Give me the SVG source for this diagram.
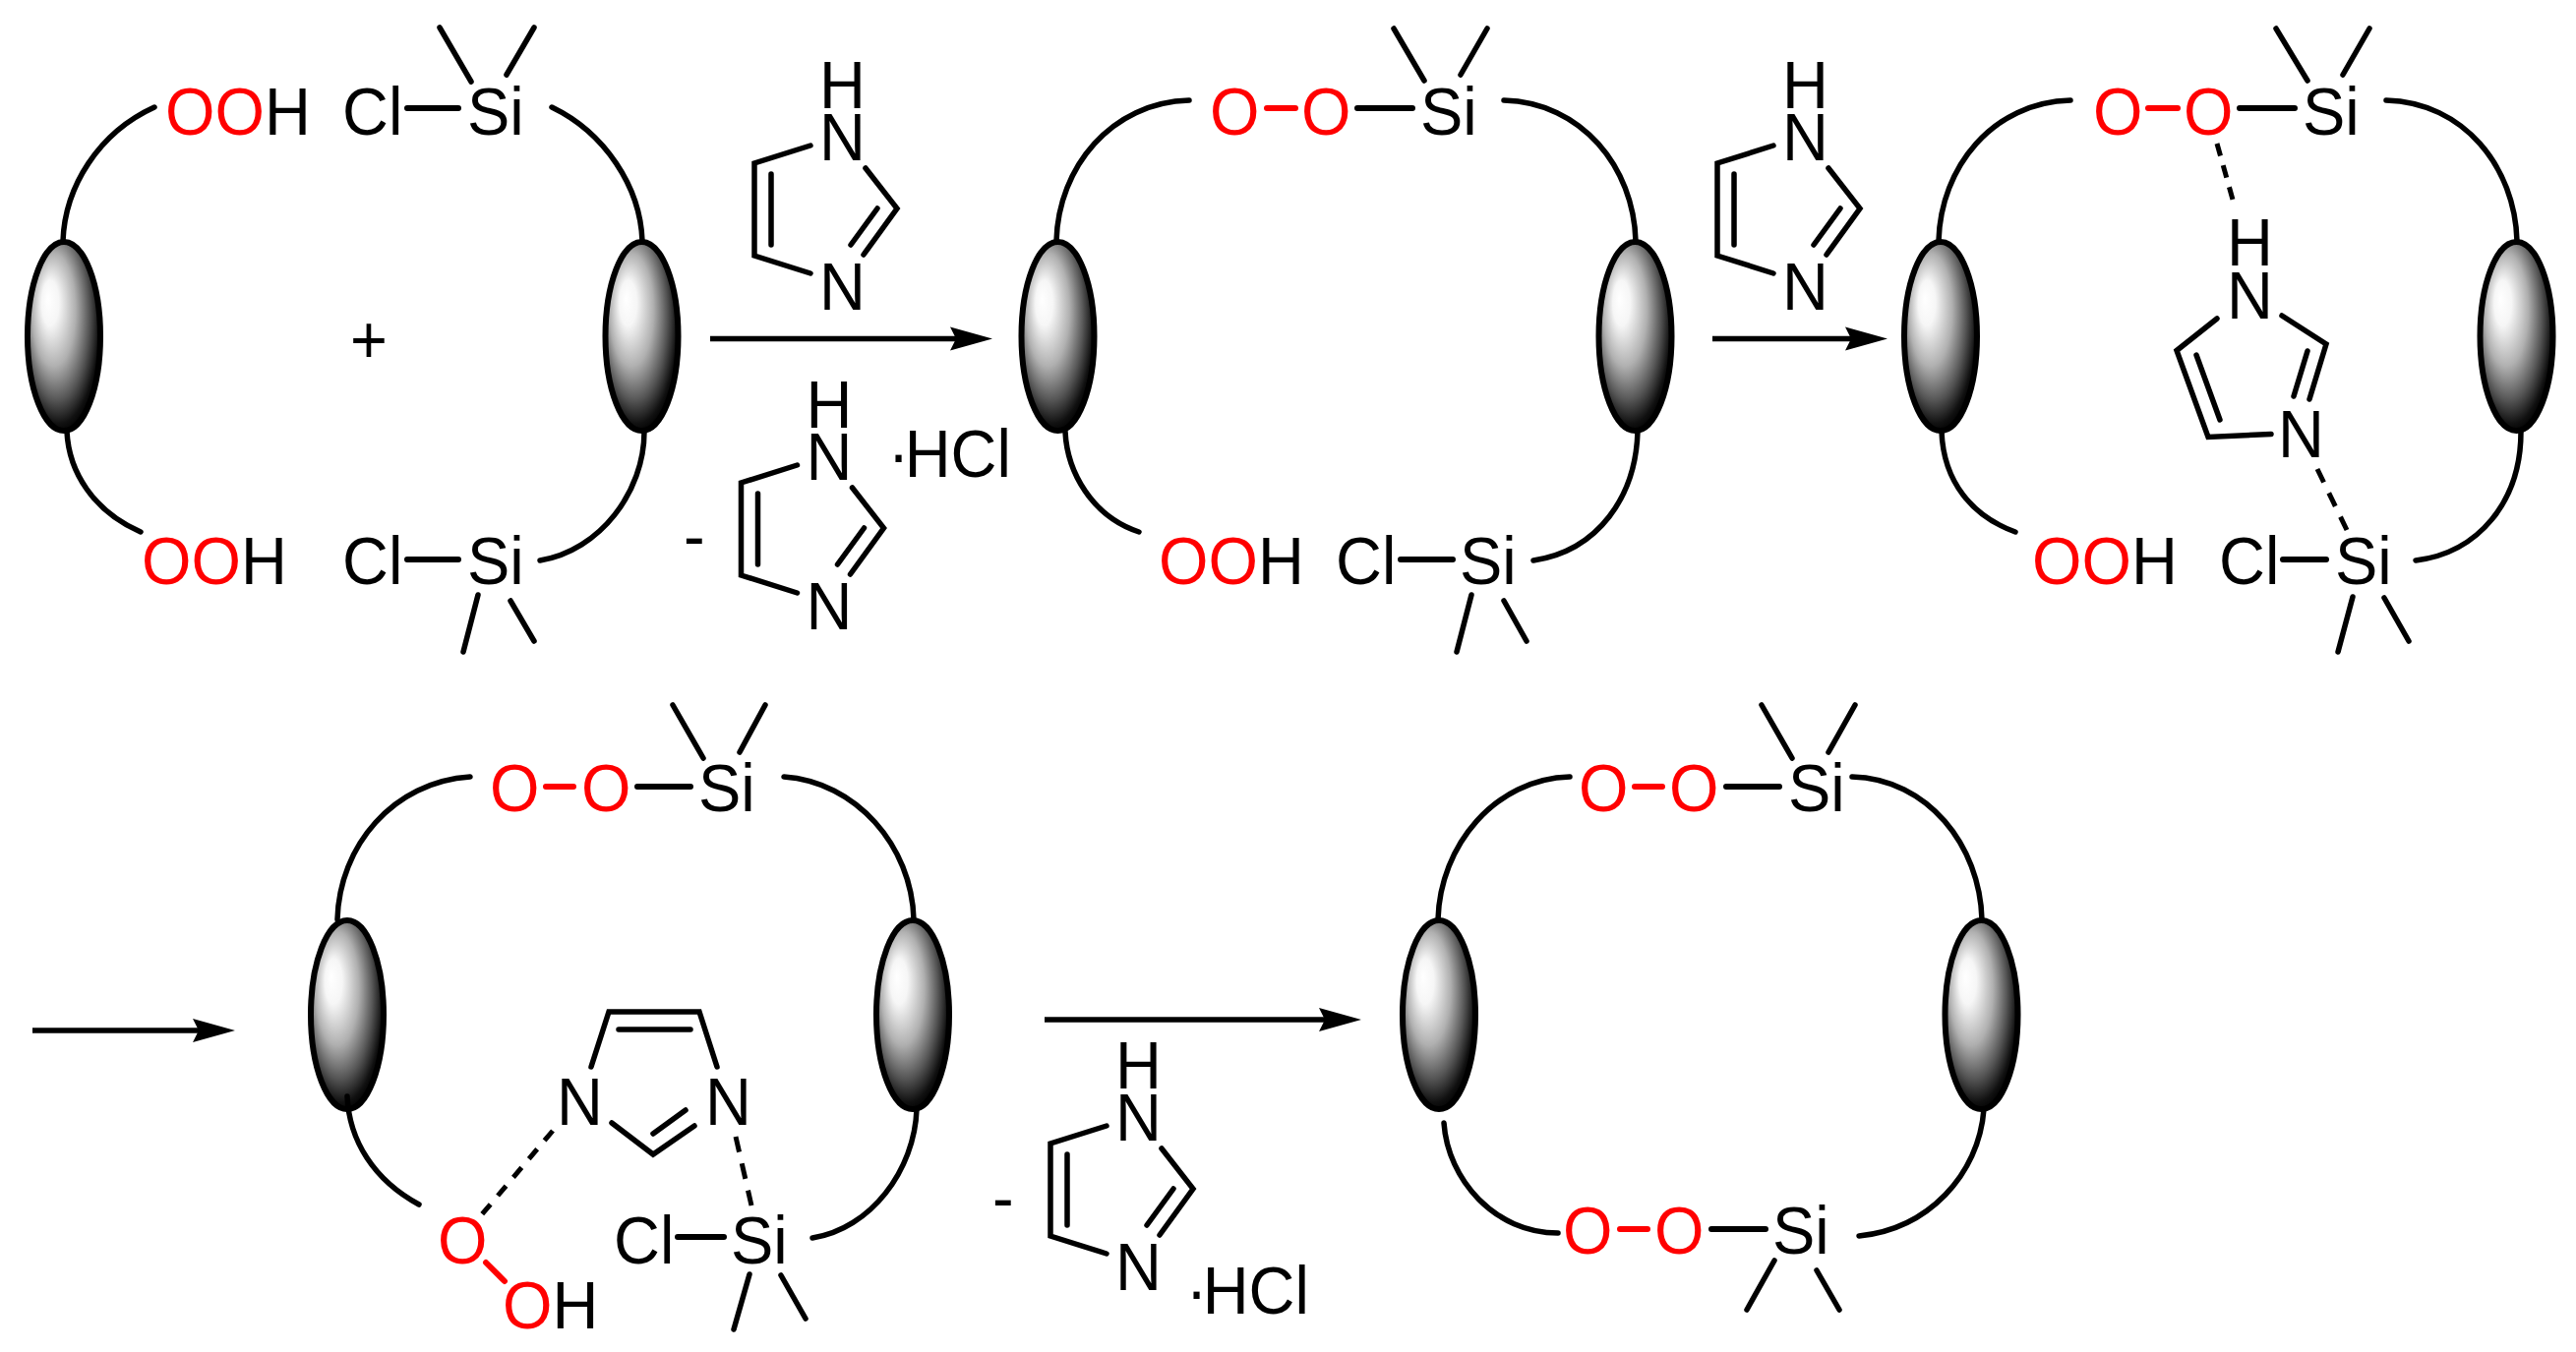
<svg xmlns="http://www.w3.org/2000/svg" width="2619" height="1375" viewBox="0 0 2619 1375">
<style>
text{font-family:"Liberation Sans",Arial,sans-serif;font-size:68px;fill:#000}
.r{fill:#f00}
.l{fill:none;stroke:#000;stroke-width:5.5;stroke-linecap:round;stroke-linejoin:miter}
.d{fill:none;stroke:#000;stroke-width:5;stroke-linecap:butt}
.rb{fill:none;stroke:#f00;stroke-width:6;stroke-linecap:round}
.bond{fill:none;stroke:#000;stroke-width:6;stroke-linecap:round}
.bead{fill:url(#bead);stroke:#000;stroke-width:6}
.ar{fill:none;stroke:#000;stroke-width:5.5}
</style>
<defs>
<radialGradient id="bead" cx="0.44" cy="0.42" r="0.6" fx="0.28" fy="0.3">
<stop offset="0" stop-color="#fff"/><stop offset="0.2" stop-color="#f6f6f6"/><stop offset="0.5" stop-color="#b0b0b0"/><stop offset="0.75" stop-color="#555"/><stop offset="0.92" stop-color="#111"/><stop offset="1" stop-color="#000"/>
</radialGradient>
<marker id="head" markerUnits="userSpaceOnUse" markerWidth="46" markerHeight="28" refX="6" refY="14" orient="auto"><path d="M0,2 L43,14 L0,26 L6,14 Z" fill="#000"/></marker>
</defs>

<g id="connectors">
<line class="ar" x1="722" y1="344.500" x2="972" y2="344.500" marker-end="url(#head)"/>
<line class="ar" x1="1741" y1="344.500" x2="1882" y2="344.500" marker-end="url(#head)"/>
<line class="ar" x1="33" y1="1048" x2="202" y2="1048" marker-end="url(#head)"/>
<line class="ar" x1="1062" y1="1037" x2="1347" y2="1037" marker-end="url(#head)"/>
</g>

<g id="reactant">
<path class="l" d="M64,245C66,190 100,135 157,109M653,245C651,190 615,135 561,109M68,439C70,480 95,520 143,541M655,439C655,500 610,560 549,570"/>
<ellipse class="bead" cx="65" cy="342" rx="37" ry="96"/><ellipse class="bead" cx="652.500" cy="342" rx="37" ry="96"/>
<path class="l" d="M447,28L479,83M543,28L515,76M486,605L471,663M519,611L543,652"/>
<path class="bond" d="M414,110H466M414,569H466"/>
<text transform="translate(168 137) scale(.955 1)"><tspan class="r">OO</tspan>H</text>
<text transform="translate(348 137) scale(.955 1)">Cl</text>
<text transform="translate(475 137) scale(.955 1)">Si</text>
<text transform="translate(144 594) scale(.955 1)"><tspan class="r">OO</tspan>H</text>
<text transform="translate(348 594) scale(.955 1)">Cl</text>
<text transform="translate(475 594) scale(.955 1)">Si</text>
</g>
<g id="plus"><text transform="translate(356 369) scale(.955 1)">+</text></g>

<g id="imidazole-1">
<path class="l" d="M824,148L767,166V260L824,278M784,177V249M880,171L912,212L878,259M892,212L865,249"/>
<text transform="translate(833 110) scale(.955 1)">H</text><text transform="translate(833 163) scale(.955 1)">N</text><text transform="translate(833 315) scale(.955 1)">N</text>
</g>
<g id="imidazole-2" transform="translate(-13.500 325)">
<path class="l" d="M824,148L767,166V260L824,278M784,177V249M880,171L912,212L878,259M892,212L865,249"/>
<text transform="translate(833 110) scale(.955 1)">H</text><text transform="translate(833 163) scale(.955 1)">N</text><text transform="translate(833 315) scale(.955 1)">N</text>
</g>
<g id="loss-1"><text transform="translate(695 569) scale(.955 1)">-</text><text transform="translate(898 485) scale(.955 1)"><tspan dx="5">·</tspan><tspan dx="-5">HCl</tspan></text></g>

<g id="intermediate-1">
<path class="l" d="M1074,245C1076,170 1130,104 1209,102M1663,245C1661,170 1608,104 1529,102M1083,439C1085,480 1110,525 1158,541M1665,439C1663,505 1625,560 1559,570"/>
<ellipse class="bead" cx="1075.500" cy="342" rx="37" ry="96"/><ellipse class="bead" cx="1662.500" cy="342" rx="37" ry="96"/>
<path class="l" d="M1417,29L1448,82M1512,29L1485,76M1496,605L1481,663M1529,611L1552,652"/>
<path class="rb" d="M1288,110H1317"/><path class="bond" d="M1380,110H1436M1424,569H1477"/>
<text class="r" transform="translate(1230 137) scale(.955 1)">O</text><text class="r" transform="translate(1323 137) scale(.955 1)">O</text>
<text transform="translate(1444 137) scale(.955 1)">Si</text>
<text transform="translate(1178 594) scale(.955 1)"><tspan class="r">OO</tspan>H</text>
<text transform="translate(1358 594) scale(.955 1)">Cl</text>
<text transform="translate(1484 594) scale(.955 1)">Si</text>
</g>
<g id="imidazole-3" transform="translate(979 0)">
<path class="l" d="M824,148L767,166V260L824,278M784,177V249M880,171L912,212L878,259M892,212L865,249"/>
<text transform="translate(833 110) scale(.955 1)">H</text><text transform="translate(833 163) scale(.955 1)">N</text><text transform="translate(833 315) scale(.955 1)">N</text>
</g>

<g id="intermediate-2">
<path class="l" d="M1971,245C1973,170 2026,104 2105,102M2559,245C2557,170 2505,104 2426,102M1974,439C1976,490 2005,525 2049,541M2563,439C2563,510 2520,562 2456,570"/>
<ellipse class="bead" cx="1973" cy="342" rx="37" ry="96"/><ellipse class="bead" cx="2558.500" cy="342" rx="37" ry="96"/>
<path class="l" d="M2314,29L2346,82M2409,29L2382,76M2392,607L2377,663M2424,608L2449,652"/>
<path class="rb" d="M2184,110H2214"/><path class="bond" d="M2277,110H2333M2321,569H2365"/>
<path class="d" stroke-dasharray="13 10" d="M2254,146L2270,203"/>
<path class="d" stroke-dasharray="15 12" d="M2356,477L2386,539"/>
<path class="l" d="M2254,324L2213,356.500L2245,444.500L2309,441.500M2233,361L2257,427M2320,321L2365,350L2348,406M2346,357L2332,403"/>
<text class="r" transform="translate(2128 137) scale(.955 1)">O</text><text class="r" transform="translate(2220 137) scale(.955 1)">O</text>
<text transform="translate(2341 137) scale(.955 1)">Si</text>
<text transform="translate(2264 270) scale(.955 1)">H</text><text transform="translate(2264 324) scale(.955 1)">N</text><text transform="translate(2316 465) scale(.955 1)">N</text>
<text transform="translate(2066 594) scale(.955 1)"><tspan class="r">OO</tspan>H</text>
<text transform="translate(2256 594) scale(.955 1)">Cl</text>
<text transform="translate(2374 594) scale(.955 1)">Si</text>
</g>

<g id="intermediate-3">
<path class="l" d="M343,935C345,860 400,795 478,790M929,935C927,860 870,795 797,790M932,1128C930,1190 885,1250 826,1259"/>
<ellipse class="bead" cx="353" cy="1032" rx="37" ry="96"/><ellipse class="bead" cx="928" cy="1032" rx="37" ry="96"/>
<path class="l" d="M353,1115C355,1160 380,1200 426,1225"/>
<path class="l" d="M684,717L715,771M778,717L752,765M762,1296L746,1352M794,1297L819,1341"/>
<path class="rb" d="M555,800H583M494,1284L513,1303"/><path class="bond" d="M648,800H702M689,1258H736"/>
<path class="l" d="M601,1085L619,1029H711L729,1085M629,1047H702M622,1142L664,1174L706,1145M664,1153L697,1129"/>
<path class="d" stroke-dasharray="13 11.500" d="M562,1150L490,1235"/>
<path class="d" stroke-dasharray="16 12" d="M748,1156L764,1226"/>
<text class="r" transform="translate(498 825) scale(.955 1)">O</text><text class="r" transform="translate(591 825) scale(.955 1)">O</text>
<text transform="translate(710 825) scale(.955 1)">Si</text>
<text transform="translate(566 1144) scale(.955 1)">N</text><text transform="translate(717 1144) scale(.955 1)">N</text>
<text class="r" transform="translate(445 1285) scale(.955 1)">O</text>
<text transform="translate(511 1351) scale(.955 1)"><tspan class="r">O</tspan>H</text>
<text transform="translate(624 1285) scale(.955 1)">Cl</text>
<text transform="translate(743 1285) scale(.955 1)">Si</text>
</g>
<g id="imidazole-4" transform="translate(301 997)">
<path class="l" d="M824,148L767,166V260L824,278M784,177V249M880,171L912,212L878,259M892,212L865,249"/>
<text transform="translate(833 110) scale(.955 1)">H</text><text transform="translate(833 163) scale(.955 1)">N</text><text transform="translate(833 315) scale(.955 1)">N</text>
</g>
<g id="loss-2"><text transform="translate(1009 1242) scale(.955 1)">-</text><text transform="translate(1201 1336) scale(.955 1)"><tspan dx="5">·</tspan><tspan dx="-5">HCl</tspan></text></g>

<g id="product">
<path class="l" d="M1462,935C1464,860 1520,792 1596,790M2015,935C2013,860 1960,792 1883,790M1468,1142C1472,1200 1520,1254 1584,1254M2017,1128C2012,1195 1960,1250 1890,1257"/>
<ellipse class="bead" cx="1463" cy="1032" rx="37" ry="96"/><ellipse class="bead" cx="2014.500" cy="1032" rx="37" ry="96"/>
<path class="l" d="M1791,717L1822,771M1886,717L1859,765M1804,1282L1776,1332M1847,1292L1870,1332"/>
<path class="rb" d="M1662,800H1690M1647,1250H1675"/><path class="bond" d="M1755,800H1809M1740,1250H1795"/>
<text class="r" transform="translate(1605 825) scale(.955 1)">O</text><text class="r" transform="translate(1697 825) scale(.955 1)">O</text>
<text transform="translate(1818 825) scale(.955 1)">Si</text>
<text class="r" transform="translate(1589 1275) scale(.955 1)">O</text><text class="r" transform="translate(1682 1275) scale(.955 1)">O</text>
<text transform="translate(1802 1275) scale(.955 1)">Si</text>
</g>
</svg>
